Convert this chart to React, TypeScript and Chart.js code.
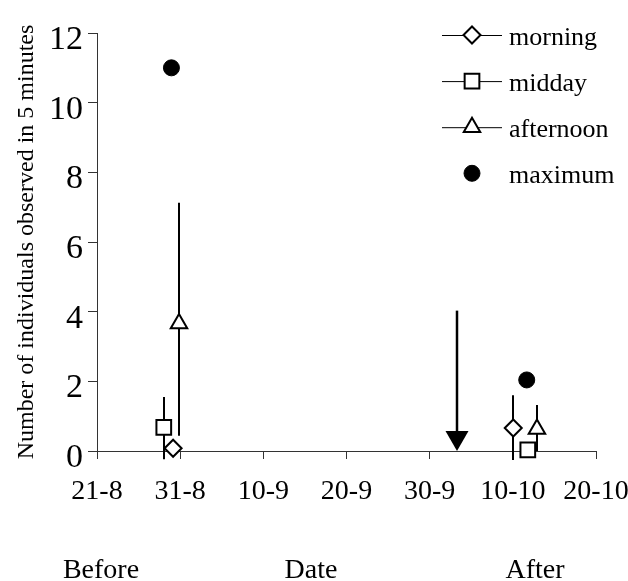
import React, { useEffect, useRef } from 'react';
import { Chart, registerables } from 'chart.js';
import { drawPoint } from 'chart.js/helpers';

Chart.register(...registerables);

const FONT = '"Liberation Serif", "Times New Roman", serif';

// x values: days after 21-8
const xTickLabels = ['21-8', '31-8', '10-9', '20-9', '30-9', '10-10', '20-10'];
const yTitle = 'Number of individuals observed in 5 minutes';
const bottomLabels = ['Before', 'Date', 'After'];

const seriesLabels = ['morning', 'midday', 'afternoon', 'maximum'];

const morningX = [9.15, 50.05];
const morningY = [0.08, 0.66];
const morningLow = [null, -0.26];
const morningHigh = [null, 1.6];

const middayX = [8.03, 51.8];
const middayY = [0.68, 0.03];
const middayLow = [-0.24, null];
const middayHigh = [1.55, null];

const afternoonX = [9.86, 52.9];
const afternoonY = [3.66, 0.63];
const afternoonLow = [0.44, 0];
const afternoonHigh = [7.13, 1.32];

const maximumX = [8.95, 51.67];
const maximumY = [11, 2.04];

// arrow marker
const arrowX = [43.33];
const arrowFrom = [4.03];
const arrowTo = [0];

const toPoints = (xs: number[], ys: number[]) => xs.map((x, i) => ({ x, y: ys[i] }));

const errorBarPlugin = {
  id: 'errorBars',
  beforeDatasetsDraw(chart: any) {
    const { ctx, scales } = chart;
    const xs = scales.x;
    const ys = scales.y;
    ctx.save();
    ctx.strokeStyle = '#000';
    ctx.lineWidth = 2;
    chart.data.datasets.forEach((ds: any) => {
      if (!ds.errorLow || !ds.errorHigh) return;
      ds.data.forEach((p: any, j: number) => {
        const lo = ds.errorLow[j];
        const hi = ds.errorHigh[j];
        if (lo == null || hi == null) return;
        const px = Math.round(xs.getPixelForValue(p.x));
        ctx.beginPath();
        ctx.moveTo(px, ys.getPixelForValue(lo));
        ctx.lineTo(px, ys.getPixelForValue(hi));
        ctx.stroke();
      });
    });
    // arrows
    arrowX.forEach((ax, i) => {
      const px = Math.round(xs.getPixelForValue(ax));
      const top = ys.getPixelForValue(arrowFrom[i]);
      const tip = ys.getPixelForValue(arrowTo[i]);
      const headH = 20;
      const headW = 23;
      ctx.lineWidth = 2.5;
      ctx.beginPath();
      ctx.moveTo(px, top);
      ctx.lineTo(px, tip - headH + 1);
      ctx.stroke();
      ctx.fillStyle = '#000';
      ctx.beginPath();
      ctx.moveTo(px - headW / 2, tip - headH);
      ctx.lineTo(px + headW / 2, tip - headH);
      ctx.lineTo(px, tip);
      ctx.closePath();
      ctx.fill();
    });
    ctx.restore();
  },
};

const legendPlugin = {
  id: 'customLegend',
  afterDraw(chart: any) {
    const { ctx } = chart;
    const lineX0 = 442;
    const lineX1 = 502;
    const markX = 472;
    const textX = 509;
    const top = 35;
    const gap = 46.1;
    ctx.save();
    chart.data.datasets.forEach((ds: any, i: number) => {
      const y = top + i * gap;
      if (ds.legendLine) {
        ctx.strokeStyle = '#000';
        ctx.lineWidth = 1;
        ctx.beginPath();
        ctx.moveTo(lineX0, y + 0.5);
        ctx.lineTo(lineX1, y + 0.5);
        ctx.stroke();
      }
      ctx.fillStyle = ds.pointBackgroundColor;
      ctx.strokeStyle = ds.pointBorderColor;
      ctx.lineWidth = ds.pointBorderWidth;
      drawPoint(ctx, { pointStyle: ds.pointStyle, radius: ds.pointRadius, borderWidth: ds.pointBorderWidth, rotation: 0 }, markX, y);
      ctx.fillStyle = '#000';
      ctx.font = `26px ${FONT}`;
      ctx.textAlign = 'left';
      ctx.textBaseline = 'alphabetic';
      ctx.fillText(ds.label, textX, y + 9.5);
    });
    ctx.restore();
  },
};

const bottomLabelPlugin = {
  id: 'bottomLabels',
  afterDraw(chart: any) {
    const { ctx } = chart;
    const xs = [101, 311, 535];
    ctx.save();
    ctx.fillStyle = '#000';
    ctx.font = `28px ${FONT}`;
    ctx.textAlign = 'center';
    ctx.textBaseline = 'alphabetic';
    bottomLabels.forEach((t, i) => ctx.fillText(t, xs[i], 578));
    ctx.restore();
  },
};

export default function App() {
  const ref = useRef<HTMLCanvasElement>(null);
  useEffect(() => {
    document.body.style.margin = '0';
    const canvas = ref.current!;
    const chart = new Chart(canvas, {
      type: 'scatter',
      data: {
        datasets: [
          {
            label: seriesLabels[0],
            data: toPoints(morningX, morningY),
            pointStyle: 'rectRot',
            pointRadius: 8.5,
            pointBackgroundColor: '#fff',
            pointBorderColor: '#000',
            pointBorderWidth: 2,
            clip: false,
            errorLow: morningLow,
            errorHigh: morningHigh,
            legendLine: true,
          } as any,
          {
            label: seriesLabels[1],
            data: toPoints(middayX, middayY),
            pointStyle: 'rect',
            pointRadius: 10.4,
            pointBackgroundColor: '#fff',
            pointBorderColor: '#000',
            pointBorderWidth: 2,
            clip: false,
            errorLow: middayLow,
            errorHigh: middayHigh,
            legendLine: true,
          } as any,
          {
            label: seriesLabels[2],
            data: toPoints(afternoonX, afternoonY),
            pointStyle: 'triangle',
            pointRadius: 9.5,
            pointBackgroundColor: '#fff',
            pointBorderColor: '#000',
            pointBorderWidth: 2,
            clip: false,
            errorLow: afternoonLow,
            errorHigh: afternoonHigh,
            legendLine: true,
          } as any,
          {
            label: seriesLabels[3],
            data: toPoints(maximumX, maximumY),
            pointStyle: 'circle',
            pointRadius: 8,
            pointBackgroundColor: '#000',
            pointBorderColor: '#000',
            pointBorderWidth: 1,
            clip: false,
            legendLine: false,
          } as any,
        ],
      },
      options: {
        animation: false,
        responsive: true,
        maintainAspectRatio: false,
        events: [],
        layout: { padding: { left: 0, right: 32, top: 33, bottom: 0 } },
        plugins: {
          legend: { display: false },
          tooltip: { enabled: false },
        },
        scales: {
          x: {
            type: 'linear',
            min: 0,
            max: 60,
            afterFit: (s: any) => {
              s.height = 130;
              s.paddingLeft = 0;
              s.paddingRight = 0;
            },
            ticks: {
              stepSize: 10,
              autoSkip: false,
              maxRotation: 0,
              color: '#000',
              padding: 16,
              font: { family: FONT, size: 28 },
              callback: (v: any) => xTickLabels[Math.round(Number(v) / 10)] ?? '',
            },
            grid: { drawOnChartArea: false, tickLength: 8, color: '#333', lineWidth: 1 },
            border: { color: '#333', width: 1 },
          },
          y: {
            min: 0,
            max: 12,
            afterFit: (s: any) => {
              s.width = 97;
            },
            ticks: {
              stepSize: 2,
              color: '#000',
              padding: 5,
              labelOffset: 7,
              font: { family: FONT, size: 34 },
            },
            grid: { drawOnChartArea: false, tickLength: 9, color: '#333', lineWidth: 1 },
            border: { color: '#333', width: 1 },
            title: {
              display: true,
              text: yTitle,
              color: '#000',
              font: { family: FONT, size: 24 },
              padding: { top: 12, bottom: 0 },
            },
          },
        },
      },
      plugins: [errorBarPlugin, legendPlugin, bottomLabelPlugin],
    });
    return () => chart.destroy();
  }, []);
  return (
    <div style={{ position: 'relative', width: 628, height: 581 }}>
      <canvas ref={ref} />
    </div>
  );
}
